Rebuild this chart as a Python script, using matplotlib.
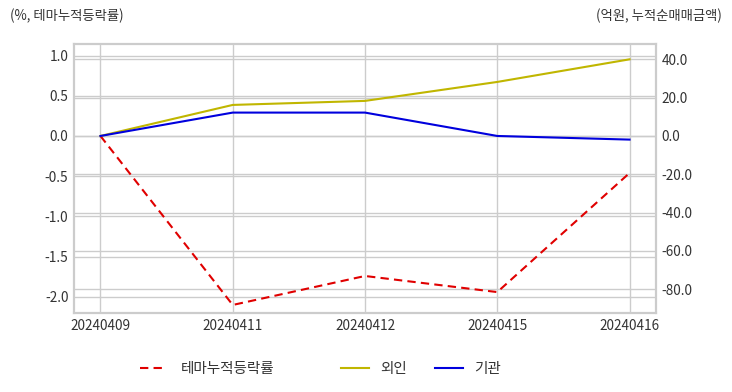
import matplotlib
matplotlib.use("Agg")
import matplotlib.pyplot as plt
from matplotlib.lines import Line2D
from matplotlib.ticker import FormatStrFormatter, FixedLocator

plt.rcParams['font.family'] = ['Noto Sans CJK KR', 'DejaVu Sans']

dates = ["20240409", "20240411", "20240412", "20240415", "20240416"]
theme_pct = [0.0, -2.10, -1.74, -1.94, -0.46]
foreign = [0.0, 16.2, 18.3, 28.2, 40.0]
institution = [0.0, 12.2, 12.2, 0.0, -1.9]

left_ticks = [1.0, 0.5, 0.0, -0.5, -1.0, -1.5, -2.0]
right_ticks = [40.0, 20.0, 0.0, -20.0, -40.0, -60.0, -80.0]

grid_c = "#cccccc"
text_c = "#333333"
red_c = "#e00000"
yel_c = "#c0b600"
blu_c = "#0000dd"

fig = plt.figure(figsize=(7.32, 3.92), dpi=100)
ax = fig.add_axes([74/732, 1-313/392, (656-74)/732, (313-44)/392])
ax2 = ax.twinx()

x = list(range(len(dates)))
ax.set_xlim(-0.2, 4.2)
ax.set_ylim(-2.2, 1.143)
ax2.set_ylim(-92.4, 48.0)

# grids (all drawn on the bottom axes, below the lines)
ax.grid(True, color=grid_c, lw=1, zorder=0)
ax.set_axisbelow(True)
for v in right_ticks:
    ax.plot([0, 1], [v, v], transform=ax2.get_yaxis_transform(), color=grid_c, lw=1, zorder=0.5)

ax.plot(x, theme_pct, color=red_c, ls=(0, (4, 2.5)), lw=1.5, zorder=3)
ax2.plot(x, foreign, color=yel_c, lw=1.5)
ax2.plot(x, institution, color=blu_c, lw=1.5)

ax.set_xticks(x)
ax.set_xticklabels(dates)
ax.yaxis.set_major_locator(FixedLocator(left_ticks))
ax2.yaxis.set_major_locator(FixedLocator(right_ticks))
ax.yaxis.set_major_formatter(FormatStrFormatter("%.1f"))
ax2.yaxis.set_major_formatter(FormatStrFormatter("%.1f"))

for a in (ax, ax2):
    a.tick_params(length=0, labelsize=9.8, colors=text_c, pad=4)
    for s in a.spines.values():
        s.set_color(grid_c)
        s.set_linewidth(1.5)
ax2.patch.set_visible(False)

fig.text(10/732, 1-16/392, "(%, 테마누적등락률)", fontsize=9.6, color=text_c, ha="left", va="center")
fig.text(722/732, 1-16/392, "(억원, 누적순매매금액)", fontsize=9.6, color=text_c, ha="right", va="center")

h1 = [Line2D([], [], color=red_c, ls=(0, (4, 2.5)), lw=1.5)]
h2 = [Line2D([], [], color=yel_c, lw=1.5), Line2D([], [], color=blu_c, lw=1.5)]
leg1 = fig.legend(h1, ["테마누적등락률"], loc="center", bbox_to_anchor=(207/732, 1-369/392),
                  frameon=False, fontsize=10.5, handlelength=1.9, handletextpad=0.9, labelcolor=text_c)
leg2 = fig.legend(h2, ["외인", "기관"], loc="center", bbox_to_anchor=(421/732, 1-369/392), ncol=2,
                  frameon=False, fontsize=10.5, handlelength=1.9, handletextpad=0.8, columnspacing=1.9,
                  labelcolor=text_c)

fig.savefig("out.png", dpi=100)
